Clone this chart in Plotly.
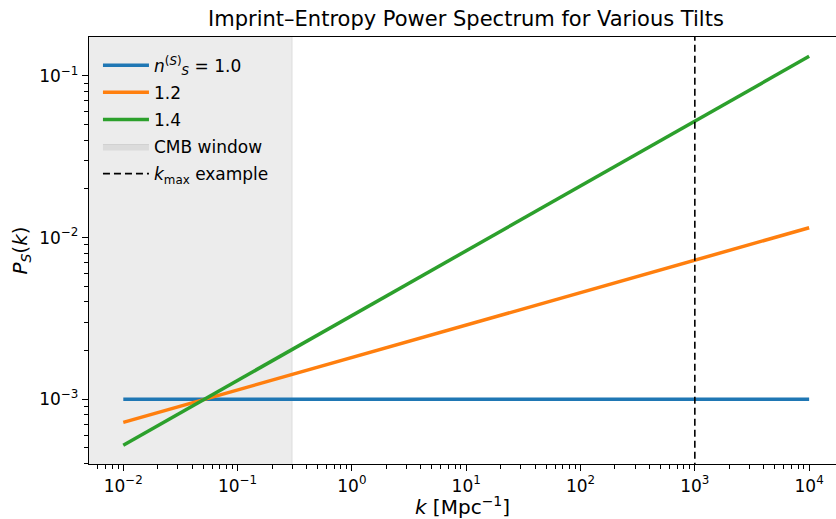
import plotly.graph_objects as go
import numpy as np

# Data (straight lines on log-log axes)
k_vals = [0.01, 1e4]
p_n10 = [1.0e-3, 1.0e-3]
p_n12 = [7.2e-4, 1.15e-2]
p_n14 = [5.2e-4, 1.32e-1]
labels = ["<i>n</i><sup>(<i>S</i>)</sup><sub><i>S</i></sub> = 1.0", "1.2", "1.4"]
colors = ["#1f77b4", "#ff7f0e", "#2ca02c"]

cmb_k = [1e-3, 0.3]       # CMB window span (left edge runs off the axis)
kmax = 1e3                # k_max example
y_span = [1e-5, 1.0]      # vertical extent for span/line (clipped by axis)

x_tickvals = [1e-2, 1e-1, 1e0, 1e1, 1e2, 1e3, 1e4]
x_ticktext = ["10<sup>−2</sup>", "10<sup>−1</sup>", "10<sup>0</sup>", "10<sup>1</sup>",
              "10<sup>2</sup>", "10<sup>3</sup>", "10<sup>4</sup>"]
y_tickvals = [1e-3, 1e-2, 1e-1]
y_ticktext = ["10<sup>−3</sup>", "10<sup>−2</sup>", "10<sup>−1</sup>"]

x_minor = [d * 10.0 ** e for e in range(-3, 5) for d in range(2, 10)]
y_minor = [d * 10.0 ** e for e in range(-4, 0) for d in range(2, 10)]

FONT = "DejaVu Sans"

fig = go.Figure()

# CMB window shading
fig.add_trace(go.Scatter(
    x=[cmb_k[0], cmb_k[1], cmb_k[1], cmb_k[0], cmb_k[0]],
    y=[y_span[0], y_span[0], y_span[1], y_span[1], y_span[0]],
    mode="lines", fill="toself",
    fillcolor="rgba(128,128,128,0.15)",
    line=dict(color="rgba(128,128,128,0.18)", width=1),
    name="CMB window", legendrank=4, legendgroup="g4", hoverinfo="skip"))

for vals, lab, c, r in zip([p_n10, p_n12, p_n14], labels, colors, [1, 2, 3]):
    fig.add_trace(go.Scatter(x=k_vals, y=vals, mode="lines",
                             line=dict(color=c, width=3.5), name=lab,
                             legendrank=r, legendgroup=f"g{r}"))

fig.add_trace(go.Scatter(x=[kmax, kmax], y=y_span, mode="lines",
                         line=dict(color="black", width=1.6, dash="7px,4px"),
                         name="<i>k</i><sub>max</sub> example", legendrank=5,
                         legendgroup="g5"))

fig.update_layout(
    width=836, height=519,
    margin=dict(l=89, r=0, t=37, b=55),
    paper_bgcolor="white", plot_bgcolor="white",
    font=dict(family=FONT, size=17, color="black"),
    title=dict(text="Imprint–Entropy Power Spectrum for Various Tilts",
               font=dict(family=FONT, size=21, color="black"),
               x=466/836, xref="container", xanchor="center",
               y=1 - 19/519, yref="container", yanchor="middle"),
    legend=dict(x=0.012, y=0.975, xanchor="left", yanchor="top",
                bgcolor="rgba(0,0,0,0)", borderwidth=0,
                font=dict(family=FONT, size=17, color="black"),
                itemwidth=46, traceorder="grouped", tracegroupgap=2),
    showlegend=True,
)

fig.update_xaxes(
    type="log", range=[-2.3, 4.235], tickvals=x_tickvals, ticktext=x_ticktext,
    showgrid=False, zeroline=False,
    showline=True, linecolor="black", linewidth=1.3, mirror=True,
    ticks="outside", ticklen=6, tickwidth=1.3, tickcolor="black",
    minor=dict(tickvals=x_minor, ticks="outside", ticklen=3.5, tickwidth=1,
               tickcolor="black", showgrid=False),
    tickfont=dict(family=FONT, size=17, color="black"),
    title=dict(text="<i>k</i> [Mpc<sup>−1</sup>]", font=dict(family=FONT, size=20, color="black"),
               standoff=11),
    automargin=False,
)
fig.update_yaxes(
    type="log", range=[-3.40, -0.76], tickvals=y_tickvals, ticktext=y_ticktext,
    showgrid=False, zeroline=False,
    showline=True, linecolor="black", linewidth=1.3, mirror=False,
    ticks="outside", ticklen=6, tickwidth=1.3, tickcolor="black",
    minor=dict(tickvals=y_minor, ticks="outside", ticklen=3.5, tickwidth=1,
               tickcolor="black", showgrid=False),
    tickfont=dict(family=FONT, size=17, color="black"),
    title=dict(text="<i>P</i><sub><i>S</i></sub>(<i>k</i>)", font=dict(family=FONT, size=20, color="black"),
               standoff=6),
    automargin=False,
)

fig.write_html("out.html")
